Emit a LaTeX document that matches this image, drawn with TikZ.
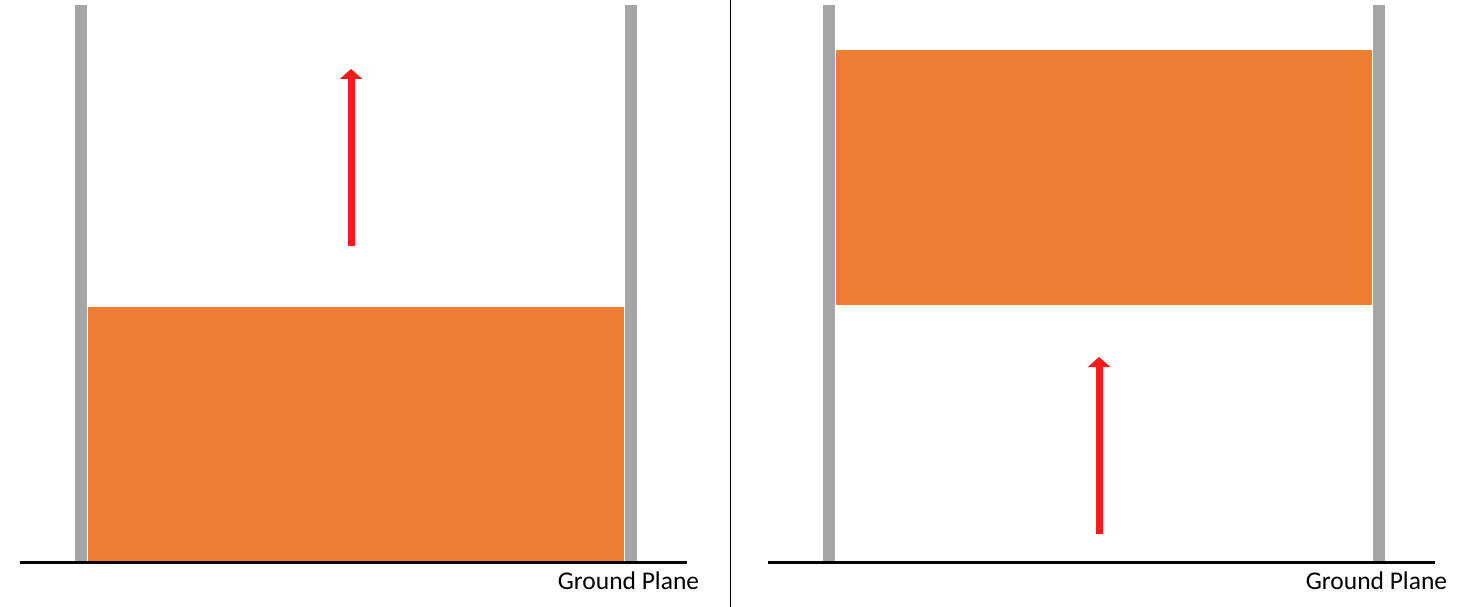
\documentclass[tikz,border=0pt]{standalone}
\usepackage{fontspec}
\setmainfont{Carlito}
\usetikzlibrary{arrows.meta}

\definecolor{wallgray}{RGB}{165,165,165}
\definecolor{blockorange}{RGB}{237,125,49}
\definecolor{pushred}{RGB}{255,25,25}

\begin{document}
\begin{tikzpicture}[
        x=1pt, y=-1pt,
        wall/.style={fill=wallgray, draw=none},
        block/.style={fill=blockorange, draw=none},
        ground/.style={line width=3pt, black},
        push/.style={line width=7pt, pushred, -{Triangle[width=22pt, length=10pt]}},
        label/.style={font=\fontsize{25.5}{30}\selectfont, inner sep=0pt}
    ]
        \useasboundingbox (0,0) rectangle (1459,607);

        % --- Murs, sol et texte des deux panneaux ---
        \foreach \dx/\name in {0/L, 748/R} {
            \begin{scope}[xshift=\dx pt]
                \fill[wall] (75,5) rectangle (87,561);
                \fill[wall] (625,5) rectangle (637,561);
                \draw[ground] (20,562) -- (687,562);
                \node[label] (gp\name) at (628.5,581) {Ground Plane};
            \end{scope}
        }

        % --- Séparation verticale ---
        \draw[line width=1.2pt] (730.5,0) -- (730.5,607);

        % --- Bloc au repos (gauche) et bloc soulevé (droite) ---
        \fill[block] (88,307) rectangle (624,561);
        \fill[block] (836,50) rectangle (1372,305);

        % --- Flèches de poussée ---
        \coordinate (aL0) at (351,246);
        \coordinate (aL1) at (351,69);
        \coordinate (aR0) at (1099,534);
        \coordinate (aR1) at (1099,357);
        \draw[push] (aL0) -- (aL1);
        \draw[push] (aR0) -- (aR1);

    \end{tikzpicture}
\end{document}
